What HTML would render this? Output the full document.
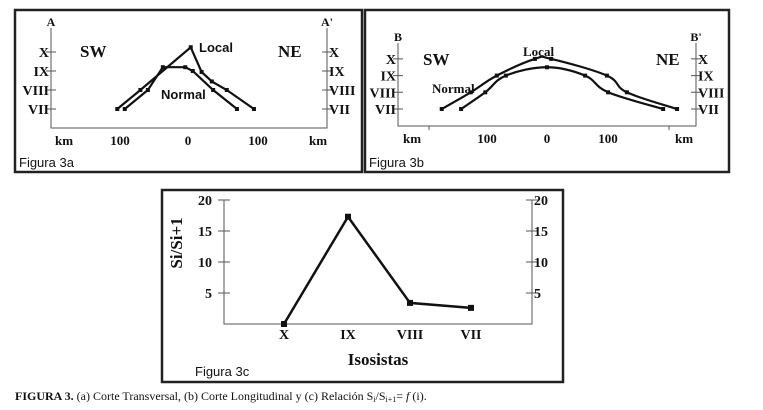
<!DOCTYPE html>
<html><head><meta charset="utf-8"><style>
html,body{margin:0;padding:0;background:#fff;width:763px;height:410px;overflow:hidden}
svg text{font-family:"Liberation Serif",serif;font-weight:bold;fill:#111}
svg text.sans{font-family:"Liberation Sans",sans-serif;font-weight:normal}
svg text.sansb{font-family:"Liberation Sans",sans-serif;font-weight:bold}
</style></head><body>
<svg id="fig" width="763" height="410" viewBox="0 0 763 410" xmlns="http://www.w3.org/2000/svg">
<g id="a"></g>
<g id="b"></g>
<g id="c"></g>
<text x="15" y="400" font-size="12" style="font-weight:normal"><tspan font-weight="bold">FIGURA 3.</tspan> (a) Corte Transversal, (b) Corte Longitudinal y (c) Relación S<tspan font-size="8" dy="2">i</tspan><tspan dy="-2">/S</tspan><tspan font-size="8" dy="2">i+1</tspan><tspan dy="-2">= </tspan><tspan font-style="italic">f</tspan> (i).</text>
</svg>
<script>
// Panel 3a data (km, intensity)
const aLocalKm=[-104,-70,4,20,35,57,97];
const aLocalI=[7,8,10.25,8.95,8.45,8,7];
const aNormalKm=[-93,-59,-37,-4,7,37,72];
const aNormalI=[7,8,9.2,9.2,9,8,7];
// Panel 3b data
const bLocalKm=[-174,-126,-83,-20,7,99,132,215];
const bLocalI=[7,8,9,10,10,9,8,7];
const bNormalKm=[-142,-102,-68,0,63,101,192];
const bNormalI=[7,8,9,9.5,9,8,7];
// Panel 3c data
const cCats=["X","IX","VIII","VII"];
const cVals=[0,17.3,3.4,2.6];
const cTicks=[5,10,15,20];
const romanLevels=["VII","VIII","IX","X"];
const NS="http://www.w3.org/2000/svg";
function mk(p,t,at,txt){const e=document.createElementNS(NS,t);for(const k in at)e.setAttribute(k,at[k]);if(txt!==undefined)e.textContent=txt;p.appendChild(e);return e;}
function smooth(pts){let d="M"+pts[0][0]+","+pts[0][1];for(let i=0;i<pts.length-1;i++){const p0=pts[i-1]||pts[i],p1=pts[i],p2=pts[i+1],p3=pts[i+2]||p2;const t=0.18;d+=" C"+(p1[0]+(p2[0]-p0[0])*t)+","+(p1[1]+(p2[1]-p0[1])*t)+" "+(p2[0]-(p3[0]-p1[0])*t)+","+(p2[1]-(p3[1]-p1[1])*t)+" "+p2[0]+","+p2[1];}return d;}
function panel(g,o){
 const fr=mk(g,"rect",{x:o.fx,y:o.fy,width:o.fw,height:o.fh,fill:"none",stroke:"#222","stroke-width":2.5});
 
 
 const ax=mk(g,"path",{d:`M${o.L},${o.top}V${o.bot}H${o.R}V${o.top}`,fill:"none",stroke:"#555","stroke-width":1});
 
 
 const X=km=>o.x0+km*o.kx, Y=I=>o.y7-(I-7)*o.ky;
 romanLevels.forEach((r,i)=>{const y=Y(7+i);
  mk(g,"path",{d:`M${o.L-5},${y}H${o.L+5}M${o.R-5},${y}H${o.R+5}`,stroke:"#555"});
  const t1=mk(g,"text",{x:o.L-2,y:y+5,"font-size":14,"text-anchor":"end"},r);
  
  
  const t2=mk(g,"text",{x:o.R+2,y:y+5,"font-size":14},r);
  
  
 });
 mk(g,"text",{x:o.L,y:o.top-2,"font-size":12,"text-anchor":"middle"},o.p1);
 mk(g,"text",{x:o.R,y:o.top-2,"font-size":12,"text-anchor":"middle"},o.p2);
 o.xl.forEach(l=>{const t=mk(g,"text",{x:l[0],y:o.bot+17,"font-size":13,"text-anchor":"middle"},l[1]);
  
  });
 mk(g,"text",{x:o.sw[0],y:o.sw[1],"font-size":17},"SW");
 mk(g,"text",{x:o.ne[0],y:o.ne[1],"font-size":17},"NE");
 const ft=mk(g,"text",{x:o.fx+4,y:o.fy+o.fh-5,"font-size":13,class:"sans"},o.fig);
 
 
 [[o.lk,o.li,"local-line"],[o.nk,o.ni,"normal-line"]].forEach(s=>{
  const pts=s[0].map((k,i)=>[X(k),Y(s[1][i])]);
  const p=mk(g,"path",{d:o.sm?smooth(pts):"M"+pts.join("L"),fill:"none",stroke:"#111","stroke-width":2.2});
  
  
  pts.forEach(q=>{const m=mk(g,"rect",{x:q[0]-2,y:q[1]-2,width:4,height:4,fill:"#111"});
   
   });
 });
 o.labels.forEach(l=>{const t=mk(g,"text",{x:l[0],y:l[1],"font-size":l[3],class:l[4]||""},l[2]);
  
  });
 if(o.ticks)o.ticks.forEach(x=>mk(g,"path",{d:`M${x},${o.bot}v4`,stroke:"#555"}));
}
panel(document.getElementById("a"),{fx:15,fy:10,fw:347,fh:162,L:51,R:327,top:28,bot:128,x0:188,kx:0.68,y7:109,ky:19,p1:"A",p2:"A'",
 xl:[[64,"km"],[120,"100"],[188,"0"],[258,"100"],[318,"km"]],sw:[80,57],ne:[278,57],fig:"Figura 3a",
 lk:aLocalKm,li:aLocalI,nk:aNormalKm,ni:aNormalI,sm:false,
 labels:[[199,52,"Local",13,"sansb"],[161,99,"Normal",13,"sansb"]]});
panel(document.getElementById("b"),{fx:365,fy:10,fw:364,fh:162,L:398,R:696,top:43,bot:126,x0:547,kx:0.605,y7:109,ky:16.7,p1:"B",p2:"B'",
 xl:[[412,"km"],[487,"100"],[547,"0"],[608,"100"],[684,"km"]],sw:[423,65],ne:[656,65],fig:"Figura 3b",
 lk:bLocalKm,li:bLocalI,nk:bNormalKm,ni:bNormalI,sm:true,ticks:[429,669],
 labels:[[523,56,"Local",13],[432,93,"Normal",13]]});
// Panel 3c
(function(){
 const g=document.getElementById("c");
 const fr=mk(g,"rect",{x:162,y:190,width:401,height:192,fill:"none",stroke:"#222","stroke-width":2.5});
 
 
 const L=224,R=532,y0=324,ky=6.2;
 const cx=[284,348,410,471];
 const Y=v=>y0-v*ky;
 mk(g,"path",{d:`M${L},${Y(20)}V${y0}H${R}V${Y(20)}`,fill:"none",stroke:"#555"});
 cTicks.forEach(v=>{const y=Y(v);
  mk(g,"path",{d:`M${L-6},${y}H${L+6}M${R-6},${y}H${R+6}`,stroke:"#555"});
  const t=mk(g,"text",{x:L-12,y:y+5,"font-size":14,"text-anchor":"end"},v);
  
  
  const t2=mk(g,"text",{x:R+2,y:y+5,"font-size":14},v);
  
  
 });
 cCats.forEach((c,i)=>{const t=mk(g,"text",{x:cx[i],y:339,"font-size":14,"text-anchor":"middle"},c);
  
  });
 const pts=cVals.map((v,i)=>[cx[i],Y(v)]);
 const p=mk(g,"path",{d:"M"+pts.join("L"),fill:"none",stroke:"#111","stroke-width":2.5});
 
 
 pts.forEach(q=>{const m=mk(g,"rect",{x:q[0]-3,y:q[1]-3,width:6,height:6,fill:"#111"});
  
  });
 const xt=mk(g,"text",{x:378,y:365,"font-size":17,"text-anchor":"middle"},"Isosistas");
 
 
 const yt=mk(g,"text",{x:0,y:0,"font-size":17,"text-anchor":"middle",transform:"translate(182,243) rotate(-90)"},"Si/Si+1");
 
 
 const ft=mk(g,"text",{x:195,y:376,"font-size":13,class:"sans"},"Figura 3c");
 
 
})();
</script>
</body></html>
